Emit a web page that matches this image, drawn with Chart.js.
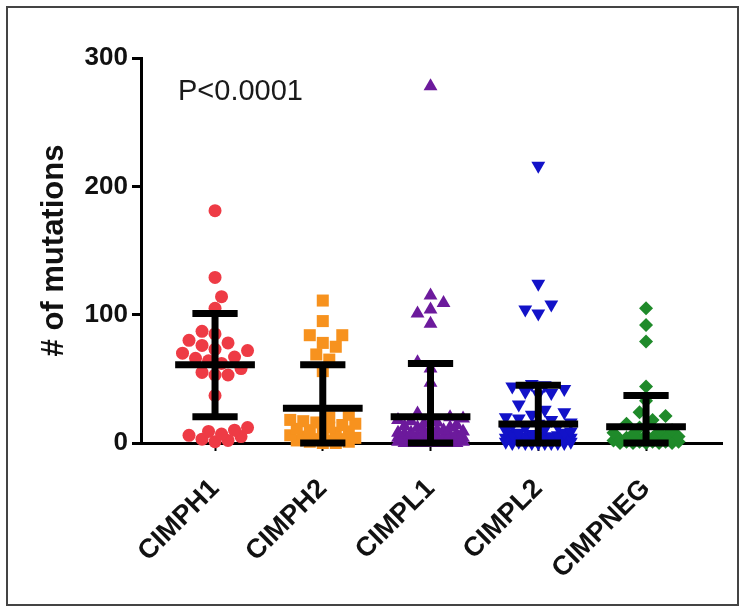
<!DOCTYPE html>
<html>
<head>
<meta charset="utf-8">
<script src="https://cdn.jsdelivr.net/npm/chart.js@4.4.0/dist/chart.umd.min.js"></script>
<style>
  body { margin: 0; background: #fff; }
  #wrap { position: relative; width: 744px; height: 612px; }
  #frame { position: absolute; left: 6px; top: 6px; width: 729px; height: 596px; border: 2px solid #444; pointer-events: none; }
</style>
</head>
<body>
<div id="wrap">
  <canvas id="chart" width="744" height="612"></canvas>
  <div id="frame"></div>
</div>
<script>
const categories = ['CIMPH1', 'CIMPH2', 'CIMPL1', 'CIMPL2', 'CIMPNEG'];
const colors = ['#ee3b45', '#f7921e', '#6c1a9c', '#1212c8', '#1f8a2a'];
const shapes = ['circle', 'rect', 'triangle', 'triangle', 'rectRot'];
const rotations = [0, 0, 0, 180, 0];
const radii = [6.5, 8.5, 8, 8, 7];

// number of mutations per sample
const cimph1 = [181, 129, 114, 105, 87, 85, 80, 78, 76, 73, 72, 70, 67, 66, 64, 62, 58, 55, 53, 53, 37, 12, 10, 9, 7, 6, 5, 3, 2, 1];
const cimph2 = [111, 95, 84, 84, 78, 75, 69, 65, 56, 22, 20, 18, 17, 16, 15, 14, 12, 11, 10, 9, 8, 7, 6, 5, 4, 3, 3, 2, 2, 1, 1, 0, 0];
const cimpl1 = [278, 115, 109, 104, 101, 93, 63, 58, 47, 23, 21, 20, 19, 18, 17, 16, 15, 14, 13, 12, 12, 11, 10, 10, 9, 9, 8, 8, 7, 7, 6, 6, 6, 5, 5, 5, 4, 4, 4, 3, 3, 3, 3, 2, 2, 2, 2, 1, 1, 1, 1, 1, 0, 0, 0, 0, 0, 0, 0];
const cimpl2 = [216, 124, 108, 104, 101, 46, 45, 44, 42, 40, 39, 38, 30, 26, 24, 22, 20, 19, 18, 16, 15, 14, 13, 12, 11, 10, 9, 8, 8, 7, 7, 6, 6, 5, 5, 5, 4, 4, 4, 3, 3, 3, 3, 2, 2, 2, 2, 1, 1, 1, 1, 1, 0, 0, 0, 0, 0, 0, 0, 0];
const cimpneg = [105, 92, 79, 44, 33, 24, 21, 18, 15, 12, 10, 9, 8, 7, 6, 5, 5, 4, 4, 3, 3, 3, 2, 2, 2, 2, 1, 1, 1, 1, 1, 0, 0, 0, 0, 0];

// mean and mean +/- SD lines
const means = [61, 27, 20.5, 14.8, 12.7];
const sdHigh = [101, 61, 62, 45, 37];
const sdLow = [20.5, 0, 0, 0, 0];

const yTicks = [0, 100, 200, 300];
const pLabel = 'P<0.0001';

const groups = [cimph1, cimph2, cimpl1, cimpl2, cimpneg];

// rough pixel scale, only used to spread the dots side by side
const PX_Y = 385 / 300;
const PX_X = 107.7;
const DIAM = 13;
const MAX_HALF = 33;

function swarm(values, center) {
    var placed = [];
    var sorted = values.slice().sort((a, b) => a - b);
    sorted.forEach(function(v, n) {
        var py = v * PX_Y;
        var best = 0, bestGap = -1;
        var sign = n % 2 ? 1 : -1;
        for (let k = 0; k * DIAM / 2 <= MAX_HALF; k++) {
            var cands = k == 0 ? [0] : [sign * k, -sign * k];
            for (const c of cands) {
                var ox = c * DIAM / 2;
                var gap = Infinity;
                placed.forEach(p => { gap = Math.min(gap, Math.hypot(p.ox - ox, p.py - py)); });
                if (gap > bestGap) { bestGap = gap; best = ox; }
            }
            if (bestGap >= DIAM) break;
        }
        placed.push({ox: best, py: py, v: v});
    });
    return placed.map(p => ({x: center + p.ox / PX_X, y: p.v}));
}

function seg(x1, x2, y1, y2) {
    return {
        type: 'scatter',
        data: [{x: x1, y: y1}, {x: x2, y: y2}],
        showLine: true,
        borderColor: '#000',
        borderWidth: 7,
        borderCapStyle: 'butt',
        pointRadius: 0,
        clip: false,
        order: 0
    };
}

var datasets = [];
for (let i = 0; i < categories.length; i++) {
    var c = i + 1;
    datasets.push(seg(c - 0.37, c + 0.37, means[i], means[i]));
    datasets.push(seg(c - 0.21, c + 0.21, sdHigh[i], sdHigh[i]));
    datasets.push(seg(c - 0.21, c + 0.21, sdLow[i], sdLow[i]));
    datasets.push(seg(c, c, sdLow[i], sdHigh[i]));
}
for (let i = 0; i < categories.length; i++) {
    datasets.push({
        type: 'scatter',
        label: categories[i],
        data: swarm(groups[i], i + 1),
        pointStyle: shapes[i],
        pointRotation: rotations[i],
        pointRadius: radii[i],
        pointBackgroundColor: colors[i],
        pointBorderWidth: 0,
        clip: false,
        order: 1
    });
}

const pText = {
    id: 'pText',
    afterDraw(chart) {
        var ctx = chart.ctx, area = chart.chartArea;
        ctx.save();
        ctx.font = '29px "Liberation Sans", Arial, sans-serif';
        ctx.fillStyle = '#1a1a1a';
        ctx.textBaseline = 'alphabetic';
        ctx.fillText(pLabel, area.left + 37, area.top + 42);
        ctx.restore();
    }
};

new Chart(document.getElementById('chart'), {
    type: 'scatter',
    data: {datasets: datasets},
    options: {
        responsive: false,
        animation: false,
        layout: {padding: {top: 58, right: 22, left: 0, bottom: 0}},
        plugins: {legend: {display: false}, tooltip: {enabled: false}},
        scales: {
            x: {
                type: 'linear',
                min: 0.313,
                max: 5.705,
                z: 1,
                afterFit: s => { s.height = 169; },
                afterBuildTicks: s => { s.ticks = categories.map((n, i) => ({value: i + 1})); },
                border: {display: true, color: '#000', width: 3},
                grid: {display: true, drawOnChartArea: false, drawTicks: true, tickLength: 8, tickWidth: 2, color: '#000'},
                ticks: {
                    autoSkip: false,
                    minRotation: 45,
                    maxRotation: 45,
                    padding: 22,
                    color: '#111',
                    font: {family: '"Liberation Sans", Arial, sans-serif', size: 27, weight: 'bold'},
                    callback: v => categories[v - 1]
                }
            },
            y: {
                min: 0,
                max: 300,
                afterFit: s => { s.width = 141; },
                afterBuildTicks: s => { s.ticks = yTicks.map(v => ({value: v})); },
                border: {display: true, color: '#000', width: 3},
                grid: {display: true, drawOnChartArea: false, drawTicks: true, tickLength: 9, tickWidth: 3, color: '#000'},
                ticks: {
                    padding: 4,
                    color: '#111',
                    font: {family: '"Liberation Sans", Arial, sans-serif', size: 26, weight: 'bold'}
                },
                title: {
                    display: true,
                    text: '# of mutations',
                    color: '#111',
                    padding: {top: 36, bottom: 0},
                    font: {family: '"Liberation Sans", Arial, sans-serif', size: 31, weight: 'bold'}
                }
            }
        }
    },
    plugins: [pText]
});
</script>
</body>
</html>
